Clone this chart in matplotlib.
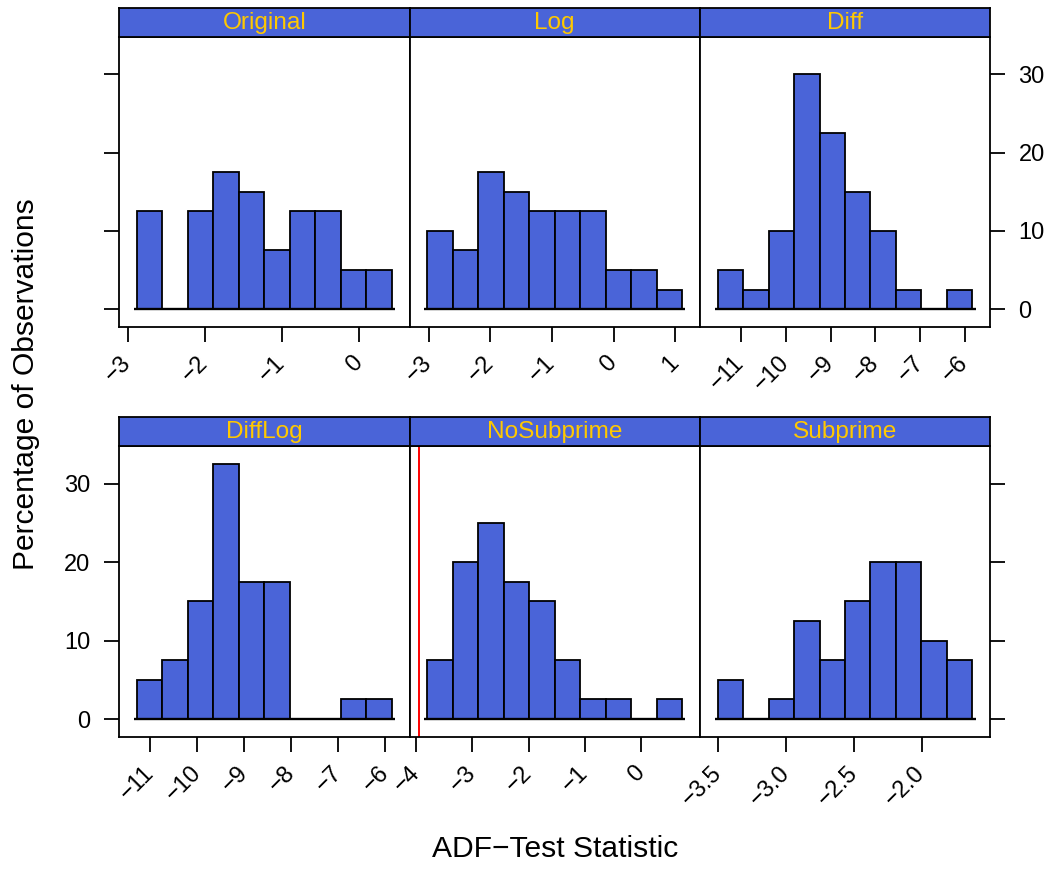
import numpy as np
import matplotlib
matplotlib.use("Agg")
import matplotlib.pyplot as plt

plt.rcParams['font.family'] = ['Liberation Sans', 'DejaVu Sans']

# ---- data (percent of observations per histogram bin) ----
panels = ["Original", "Log", "Diff", "DiffLog", "NoSubprime", "Subprime"]

orig_range = (-2.883, 0.422)
orig_pct = [12.5, 0, 12.5, 17.5, 15.0, 7.5, 12.5, 12.5, 5.0, 5.0]

log_range = (-3.026, 1.114)
log_pct = [10.0, 7.5, 17.5, 15.0, 12.5, 12.5, 12.5, 5.0, 5.0, 2.5]

diff_range = (-11.515, -5.843)
diff_pct = [5.0, 2.5, 10.0, 30.0, 22.5, 15.0, 10.0, 2.5, 0, 2.5]

difflog_range = (-11.29, -5.865)
difflog_pct = [5.0, 7.5, 15.0, 32.5, 17.5, 17.5, 0, 0, 2.5, 2.5]

nosub_range = (-3.804, 0.733)
nosub_pct = [7.5, 20.0, 25.0, 17.5, 15.0, 7.5, 2.5, 2.5, 0, 2.5]

sub_range = (-3.503, -1.630)
sub_pct = [5.0, 0, 2.5, 12.5, 7.5, 15.0, 20.0, 20.0, 10.0, 7.5]

orig_ticks = [-3, -2, -1, 0]
log_ticks = [-3, -2, -1, 0, 1]
diff_ticks = [-11, -10, -9, -8, -7, -6]
difflog_ticks = [-11, -10, -9, -8, -7, -6]
nosub_ticks = [-4, -3, -2, -1, 0]
sub_ticks = [-3.5, -3.0, -2.5, -2.0]
sub_labels = ["\u22123.5", "\u22123.0", "\u22122.5", "\u22122.0"]

y_ticks = [0, 10, 20, 30]
crit_value = -3.96  # red reference line in NoSubprime panel

ranges = [orig_range, log_range, diff_range, difflog_range, nosub_range, sub_range]
pcts = [orig_pct, log_pct, diff_pct, difflog_pct, nosub_pct, sub_pct]
ticks = [orig_ticks, log_ticks, diff_ticks, difflog_ticks, nosub_ticks, sub_ticks]

# ---- styling ----
W, H = 1054, 871
BLUE = '#4A64D8'
GOLD = '#FFC800'
LW = 1.3
TICK_FS = 17
STRIP_FS = 17.6
LAB_FS = 21.6

fig = plt.figure(figsize=(W / 100, H / 100), dpi=100)

col_x = [119, 409.5, 700, 990]
rows = [(37, 327), (446, 737)]  # panel top, bottom (px)
strip_h = 29

ymax = max(max(p) for p in pcts)
ylo, yhi = -0.07 * ymax, ymax * 1.07


def fmt(v):
    s = ("%g" % v)
    return s.replace('-', '\u2212')


for i, name in enumerate(panels):
    r, c = divmod(i, 3)
    x0, x1 = col_x[c], col_x[c + 1]
    top, bot = rows[r]
    ax = fig.add_axes([x0 / W, 1 - bot / H, (x1 - x0) / W, (bot - top) / H])
    lo, hi = ranges[i]
    pct = np.array(pcts[i])
    edges = np.linspace(lo, hi, len(pct) + 1)
    ax.bar(edges[:-1], pct, width=np.diff(edges), align='edge',
           color=BLUE, edgecolor='black', linewidth=LW, zorder=2)
    rng = hi - lo
    ax.plot([lo - 0.013 * rng, hi + 0.013 * rng], [0, 0], color='black',
            lw=LW * 1.3, zorder=3, solid_capstyle='butt')
    if name == "NoSubprime":
        ax.axvline(crit_value, color='red', lw=1.4, zorder=1)
    ax.set_xlim(lo - 0.07 * rng, hi + 0.07 * rng)
    ax.set_ylim(ylo, yhi)
    for sp in ax.spines.values():
        sp.set_linewidth(LW)
    ax.set_xticks(ticks[i])
    if name == "Subprime":
        labs = sub_labels
    else:
        labs = [fmt(t) for t in ticks[i]]
    ax.set_xticklabels(labs, rotation=45, ha='right', va='center',
                       rotation_mode='anchor', fontsize=TICK_FS)
    ax.tick_params(axis='x', direction='out', length=10.5, width=LW, pad=13)

    # y axis: alternate sides like lattice
    if c == 0:
        ax.set_yticks(y_ticks)
        ax.tick_params(axis='y', direction='out', length=10.5, width=LW,
                       left=True, right=False, labelleft=(r == 1),
                       labelright=False, pad=10, labelsize=TICK_FS)
    elif c == 2:
        ax.set_yticks(y_ticks)
        ax.yaxis.tick_right()
        ax.tick_params(axis='y', direction='out', length=10.5, width=LW,
                       left=False, right=True, labelleft=False,
                       labelright=(r == 0), pad=10, labelsize=TICK_FS)
    else:
        ax.set_yticks([])

    # strip
    sax = fig.add_axes([x0 / W, 1 - top / H, (x1 - x0) / W, strip_h / H])
    sax.set_facecolor(BLUE)
    sax.set_xticks([])
    sax.set_yticks([])
    for sp in sax.spines.values():
        sp.set_linewidth(LW)
    sax.text(0.5, 0.47, name, color=GOLD, fontsize=STRIP_FS,
             ha='center', va='center', transform=sax.transAxes)

fig.text(555 / W, 1 - 849 / H, "ADF\u2212Test Statistic", fontsize=LAB_FS,
         ha='center', va='center')
fig.text(26 / W, 1 - 384 / H, "Percentage of Observations", fontsize=LAB_FS,
         ha='center', va='center', rotation=90)

fig.savefig("out.png", dpi=100)
